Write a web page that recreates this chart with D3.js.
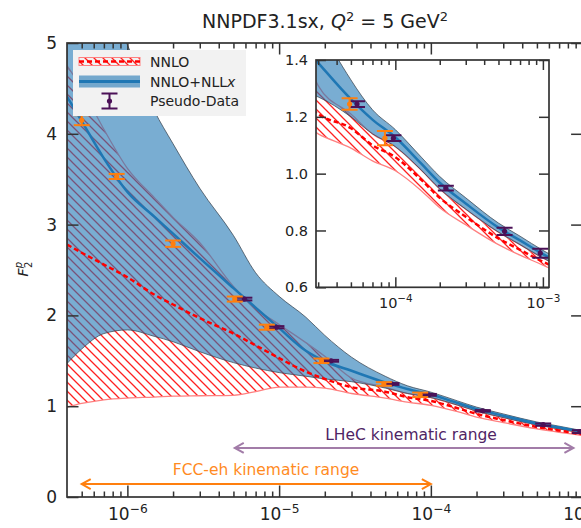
<!DOCTYPE html>
<html>
<head>
<meta charset="utf-8">
<script src="https://cdn.jsdelivr.net/npm/d3@7"></script>
<style>
body { margin: 0; background: #fff; }
</style>
</head>
<body>
<script>
// x grid shared by the theory curves
var xGrid = [4e-7, 5e-7, 7e-7, 1e-6, 1.5e-6, 2e-6, 3e-6, 5e-6, 7e-6, 1e-5, 1.5e-5, 2e-5,
             3e-5, 5e-5, 7e-5, 1e-4, 1.5e-4, 2e-4, 3e-4, 5e-4, 7e-4, 1e-3, 1.1e-3];
// NNLO (red hatched band + dashed central)
var nnloCentral = [2.78, 2.69, 2.56, 2.42, 2.23, 2.12, 1.97, 1.80, 1.67, 1.53, 1.38, 1.30,
                   1.21, 1.16, 1.10, 1.058, 0.978, 0.915, 0.848, 0.772, 0.732, 0.69, 0.68];
var nnloUpper   = [4.75, 4.50, 4.05, 3.62, 3.30, 3.08, 2.80, 2.32, 2.08, 1.90, 1.70, 1.55,
                   1.31, 1.21, 1.14, 1.095, 1.012, 0.946, 0.875, 0.794, 0.75, 0.703, 0.692];
var nnloLower   = [0.99, 1.03, 1.07, 1.09, 1.10, 1.11, 1.115, 1.12, 1.16, 1.21, 1.21, 1.20,
                   1.14, 1.09, 1.045, 1.01, 0.94, 0.88, 0.82, 0.75, 0.713, 0.678, 0.668];
// NNLO+NLLx (blue band + solid central)
var nllxCentral = [4.41, 4.14, 3.73, 3.36, 3.09, 2.90, 2.63, 2.30, 2.085, 1.86, 1.61, 1.495,
                   1.39, 1.262, 1.19, 1.128, 1.035, 0.968, 0.895, 0.81, 0.765, 0.717, 0.705];
var nllxUpper   = [6.6, 6.1, 5.5, 4.98, 4.26, 3.89, 3.40, 2.88, 2.47, 2.21, 1.98, 1.78,
                   1.54, 1.33, 1.225, 1.155, 1.058, 0.99, 0.915, 0.826, 0.78, 0.73, 0.718];
var nllxLower   = [1.47, 1.63, 1.80, 1.84, 1.77, 1.71, 1.60, 1.48, 1.42, 1.37, 1.33, 1.30,
                   1.27, 1.20, 1.14, 1.095, 1.012, 0.946, 0.875, 0.794, 0.75, 0.703, 0.692];
// pseudo-data
var fccX   = [5e-7, 8.5e-7, 2e-6, 5.1e-6, 8.3e-6, 1.9e-5, 4.9e-5, 8.5e-5];
var fccY   = [4.15, 3.53, 2.79, 2.18, 1.87, 1.50, 1.245, 1.125];
var fccErr = [0.055, 0.028, 0.035, 0.028, 0.028, 0.025, 0.02, 0.025];
var lhecX   = [5.9e-6, 9.6e-6, 2.2e-5, 5.5e-5, 9.7e-5, 2.2e-4, 5.5e-4, 9.6e-4];
var lhecY   = [2.18, 1.87, 1.50, 1.245, 1.125, 0.949, 0.797, 0.72];
var lhecErr = [0.015, 0.012, 0.01, 0.01, 0.01, 0.008, 0.013, 0.016];
// kinematic ranges
var fccRange = [5e-7, 1e-4];
var lhecRange = [5.1e-6, 8.7e-4];
// ticks
var xTicks = [1e-6, 1e-5, 1e-4, 1e-3];
var yTicks = [0, 1, 2, 3, 4, 5];
var insXTicks = [1e-4, 1e-3];
var insYTicks = [0.6, 0.8, 1.0, 1.2, 1.4];

var W = 581, H = 528;
var svg = d3.select("body").append("svg")
    .attr("width", W).attr("height", H)
    .style("font-family", "'DejaVu Sans', sans-serif");

var main = {left: 67, right: 582.6, top: 43, bottom: 497};
var ins = {left: 316, right: 549, top: 60, bottom: 287.3};

var xMain = d3.scaleLog().domain([4e-7, 1e-3]).range([main.left, main.right]);
var yMain = d3.scaleLinear().domain([0, 5]).range([main.bottom, main.top]);
var xIns = d3.scaleLog().domain([2.9e-5, 1.1e-3]).range([ins.left, ins.right]);
var yIns = d3.scaleLinear().domain([0.6, 1.4]).range([ins.bottom, ins.top]);

var defs = svg.append("defs");
defs.append("pattern").attr("id", "hatch")
    .attr("patternUnits", "userSpaceOnUse").attr("width", 9).attr("height", 9)
  .append("path")
    .attr("d", "M-1,8 l2,2 M0,0 l9,9 M8,-1 l2,2")
    .attr("stroke", "#ff2020").attr("stroke-width", 1.3);

var blue = "#1f77b4", red = "#ff0000", orange = "#ff7f0e", purple = "#4b1157";

function minorTicks(x) {
    var d = x.domain(), out = [];
    for (var e = -8; e <= -2; e++) {
        for (var k = 2; k <= 9; k++) {
            var v = k * Math.pow(10, e);
            if (v > d[0] && v < d[1]) out.push(v);
        }
    }
    return out;
}

function errorBars(g, xs, ys, errs, color, x, y) {
    xs.forEach(function(xv, i) {
        var cx = x(xv), y0 = y(ys[i] - errs[i]), y1 = y(ys[i] + errs[i]);
        var p = g.append("g").attr("stroke", color).attr("stroke-width", 2);
        p.append("line").attr("x1", cx).attr("x2", cx).attr("y1", y0).attr("y2", y1);
        p.append("line").attr("x1", cx - 8).attr("x2", cx + 8).attr("y1", y0).attr("y2", y0);
        p.append("line").attr("x1", cx - 8).attr("x2", cx + 8).attr("y1", y1).attr("y2", y1);
        g.append("circle").attr("cx", cx).attr("cy", y(ys[i])).attr("r", 2.6).attr("fill", color);
    });
}

function drawCurves(id, x, y, box) {
    defs.append("clipPath").attr("id", id).append("rect")
        .attr("x", box.left).attr("y", box.top)
        .attr("width", box.right - box.left).attr("height", box.bottom - box.top);
    var g = svg.append("g").attr("clip-path", "url(#" + id + ")");
    var band = function(lo, hi) {
        return d3.area()
            .x(function(d, i) { return x(xGrid[i]); })
            .y0(function(d, i) { return y(lo[i]); })
            .y1(function(d, i) { return y(hi[i]); })
            .curve(d3.curveMonotoneX)(xGrid);
    };
    var line = function(v) {
        return d3.line()
            .x(function(d, i) { return x(xGrid[i]); })
            .y(function(d, i) { return y(v[i]); })
            .curve(d3.curveMonotoneX)(xGrid);
    };
    g.append("path").attr("d", band(nnloLower, nnloUpper)).attr("fill", "url(#hatch)");
    [nnloLower, nnloUpper].forEach(function(e) {
        g.append("path").attr("d", line(e)).attr("fill", "none")
            .attr("stroke", "#ff8080").attr("stroke-width", 1.3);
    });
    g.append("path").attr("d", band(nllxLower, nllxUpper))
        .attr("fill", blue).attr("fill-opacity", 0.6)
        .attr("stroke", "#3a4450").attr("stroke-opacity", 0.75).attr("stroke-width", 1);
    g.append("path").attr("d", line(nnloCentral)).attr("fill", "none")
        .attr("stroke", red).attr("stroke-width", 2.5).attr("stroke-dasharray", "5,3");
    g.append("path").attr("d", line(nllxCentral)).attr("fill", "none")
        .attr("stroke", blue).attr("stroke-width", 2.5);
    errorBars(g, lhecX, lhecY, lhecErr, purple, x, y);
    errorBars(g, fccX, fccY, fccErr, orange, x, y);
}

function logLabel(sel, size) {
    sel.each(function(d) {
        var t = d3.select(this).text(null);
        t.append("tspan").text("10");
        t.append("tspan").attr("dy", -0.42 * size).attr("font-size", 0.72 * size)
            .text("\u2212" + Math.round(-Math.log10(d)));
    });
}

function drawAxes(x, y, box, o) {
    var g = svg.append("g");
    var put = function(axis, tx, ty) {
        var a = g.append("g").attr("transform", "translate(" + tx + "," + ty + ")").call(axis);
        a.attr("font-family", null).attr("font-size", null).attr("color", "#333");
        a.select(".domain").remove();
        a.selectAll(".tick line").attr("stroke-width", 1.5);
        return a;
    };
    var mt = minorTicks(x);
    var bx = put(d3.axisBottom(x).tickValues(o.xTicks).tickSizeInner(-o.major).tickSizeOuter(0)
        .tickPadding(o.xPad), 0, box.bottom);
    bx.selectAll(".tick text").attr("fill", "#222").attr("font-size", o.font).call(logLabel, o.font);
    put(d3.axisBottom(x).tickValues(mt).tickSizeInner(-o.minor).tickSizeOuter(0).tickFormat(""), 0, box.bottom);
    put(d3.axisTop(x).tickValues(o.xTicks).tickSizeInner(-o.major).tickSizeOuter(0).tickFormat(""), 0, box.top);
    put(d3.axisTop(x).tickValues(mt).tickSizeInner(-o.minor).tickSizeOuter(0).tickFormat(""), 0, box.top);
    var ly = put(d3.axisLeft(y).tickValues(o.yTicks).tickSizeInner(-o.major).tickSizeOuter(0)
        .tickPadding(o.yPad).tickFormat(o.yFormat), box.left, 0);
    ly.selectAll(".tick text").attr("fill", "#222").attr("font-size", o.font);
    put(d3.axisRight(y).tickValues(o.yTicks).tickSizeInner(-o.major).tickSizeOuter(0).tickFormat(""), box.right, 0);
    g.append("rect").attr("x", box.left).attr("y", box.top)
        .attr("width", box.right - box.left).attr("height", box.bottom - box.top)
        .attr("fill", "none").attr("stroke", "#333").attr("stroke-width", 1.7);
}

// main panel
drawCurves("clipMain", xMain, yMain, main);
drawAxes(xMain, yMain, main, {xTicks: xTicks, yTicks: yTicks, major: 11.5, minor: 5.5,
    xPad: 11, yPad: 10, font: 17, yFormat: d3.format("d")});

// kinematic range arrows
function rangeArrow(r, yv, color) {
    var x1 = xMain(r[0]), x2 = xMain(r[1]), yy = yMain(yv);
    var g = svg.append("g").attr("stroke", color).attr("stroke-width", 2).attr("fill", "none");
    g.append("line").attr("x1", x1).attr("x2", x2).attr("y1", yy).attr("y2", yy);
    g.append("path").attr("d", "M" + (x1 + 9) + "," + (yy - 5) + "L" + x1 + "," + yy + "L" + (x1 + 9) + "," + (yy + 5));
    g.append("path").attr("d", "M" + (x2 - 9) + "," + (yy - 5) + "L" + x2 + "," + yy + "L" + (x2 - 9) + "," + (yy + 5));
}
rangeArrow(lhecRange, 0.54, "#a27ca8");
rangeArrow(fccRange, 0.143, orange);
svg.append("text").attr("x", xMain(7.4e-5)).attr("y", yMain(0.628))
    .attr("text-anchor", "middle").attr("font-size", 15.5).attr("fill", "#4f2565")
    .text("LHeC kinematic range");
svg.append("text").attr("x", xMain(8.2e-6)).attr("y", yMain(0.242))
    .attr("text-anchor", "middle").attr("font-size", 15.5).attr("fill", "#ff8b1f")
    .text("FCC-eh kinematic range");

// inset panel
svg.append("rect").attr("x", ins.left).attr("y", ins.top)
    .attr("width", ins.right - ins.left).attr("height", ins.bottom - ins.top).attr("fill", "#fff");
drawCurves("clipIns", xIns, yIns, ins);
drawAxes(xIns, yIns, ins, {xTicks: insXTicks, yTicks: insYTicks, major: 10, minor: 5,
    xPad: 10, yPad: 8, font: 14.5, yFormat: d3.format(".1f")});

// legend
var lg = svg.append("g");
lg.append("rect").attr("x", 73).attr("y", 50).attr("width", 173).attr("height", 66).attr("fill", "#f2f2f2");
lg.append("rect").attr("x", 79).attr("y", 57.5).attr("width", 61).attr("height", 8)
    .attr("fill", "url(#hatch)").attr("stroke", "#ff8080").attr("stroke-width", 1);
lg.append("line").attr("x1", 79).attr("x2", 140).attr("y1", 61.5).attr("y2", 61.5)
    .attr("stroke", red).attr("stroke-width", 2.5).attr("stroke-dasharray", "5,3");
lg.append("rect").attr("x", 79).attr("y", 75.5).attr("width", 61).attr("height", 12)
    .attr("fill", blue).attr("fill-opacity", 0.6);
lg.append("line").attr("x1", 79).attr("x2", 140).attr("y1", 81.5).attr("y2", 81.5)
    .attr("stroke", blue).attr("stroke-width", 3);
var pd = lg.append("g").attr("stroke", purple).attr("stroke-width", 2);
pd.append("line").attr("x1", 109.5).attr("x2", 109.5).attr("y1", 93.5).attr("y2", 108.5);
pd.append("line").attr("x1", 101.5).attr("x2", 117.5).attr("y1", 93.5).attr("y2", 93.5);
pd.append("line").attr("x1", 101.5).attr("x2", 117.5).attr("y1", 108.5).attr("y2", 108.5);
lg.append("circle").attr("cx", 109.5).attr("cy", 101).attr("r", 2.6).attr("fill", purple);
var legTxt = [["NNLO", 66.5], ["NNLO+NLL", 86.5], ["Pseudo-Data", 106]];
legTxt.forEach(function(t, i) {
    var tx = lg.append("text").attr("x", 150).attr("y", t[1]).attr("font-size", 14).attr("fill", "#222").text(t[0]);
    if (i == 1) tx.append("tspan").attr("font-style", "italic").text("x");
});

// title
var title = svg.append("text").attr("x", 325).attr("y", 28).attr("text-anchor", "middle")
    .attr("font-size", 19).attr("fill", "#222");
title.append("tspan").text("NNPDF3.1sx, ");
title.append("tspan").attr("font-style", "italic").text("Q");
title.append("tspan").attr("dy", -7.5).attr("font-size", 13).text("2");
title.append("tspan").attr("dy", 7.5).text(" = 5 GeV");
title.append("tspan").attr("dy", -7.5).attr("font-size", 13).text("2");

// y label
var yl = svg.append("text").attr("transform", "translate(28,269) rotate(-90)")
    .attr("text-anchor", "middle").attr("font-size", 14).attr("fill", "#222");
yl.append("tspan").attr("font-style", "italic").text("F");
yl.append("tspan").attr("font-size", 10).attr("dy", -6).attr("font-style", "italic").text("p");
yl.append("tspan").attr("font-size", 10).attr("dx", -6).attr("dy", 10).text("2");
</script>
</body>
</html>
